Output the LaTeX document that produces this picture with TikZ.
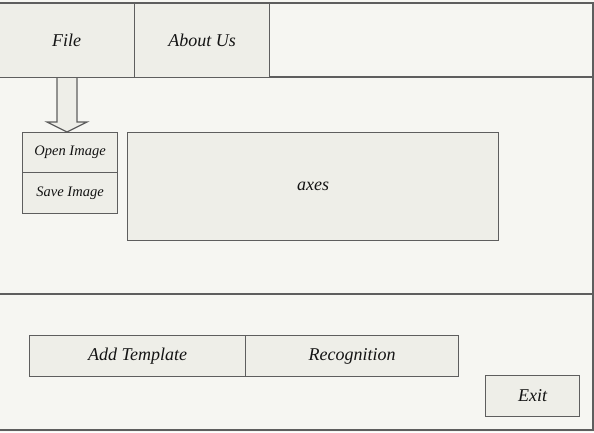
\documentclass[tikz,border=0pt]{standalone}
\usepackage{fontspec}
\setmainfont{Liberation Serif}
\usetikzlibrary{calc}
\definecolor{bg}{HTML}{F6F6F2}
\definecolor{boxfill}{HTML}{EEEEE8}
\definecolor{linegray}{HTML}{5E5E5E}
\begin{document}
\begin{tikzpicture}[x=1pt,y=-1pt,
  box/.style={draw=linegray, fill=boxfill, line width=1.2pt, inner sep=0pt,
    anchor=north west, text=black!92, font=\itshape\fontsize{18}{20}\selectfont},
  smallbox/.style={box, font=\itshape\fontsize{14.5}{16}\selectfont},
  frameline/.style={draw=linegray, line width=1.2pt}]
\useasboundingbox (0,0) rectangle (594,432);
\fill[bg] (0,0) rectangle (594,432);
% arrow from File to the drop-down
\coordinate (atop) at (67,77);
\coordinate (atip) at (67,132);
\draw[frameline, fill=boxfill, line join=miter]
  ($(atop)+(-10,0)$) -- ($(atip)+(-10,-10)$) -- ($(atip)+(-20,-10)$) -- (atip)
  -- ($(atip)+(20,-10)$) -- ($(atip)+(10,-10)$) -- ($(atop)+(10,0)$) -- cycle;
% outer frame (no left edge) and section lines
\coordinate (ftl) at (-2,3);   \coordinate (ftr) at (593,3);
\coordinate (fbr) at (593,430); \coordinate (fbl) at (-2,430);
\draw[frameline] (ftl) -- (ftr) -- (fbr) -- (fbl);
\coordinate (l1a) at (-2,77);   \coordinate (l1b) at (593,77);
\coordinate (l2a) at (-2,294);  \coordinate (l2b) at (593,294);
\draw[frameline] (l1a) -- (l1b);
\draw[frameline] (l2a) -- (l2b);
% menu bar
\node[box, minimum width=136, minimum height=74] (file) at (-2,3) {File};
\node[box, minimum width=135, minimum height=74] (about) at (134,3) {About Us};
% drop-down
\node[smallbox, minimum width=95, minimum height=40] (open) at (22,132) {Open Image};
\node[smallbox, minimum width=95, minimum height=41] (save) at (22,172) {Save Image};
% axes
\node[box, minimum width=371, minimum height=108] (axes) at (127,132) {axes};
% bottom buttons
\node[box, minimum width=216, minimum height=41] (add) at (29,335) {Add Template};
\node[box, minimum width=213, minimum height=41] (recog) at (245,335) {Recognition};
\node[box, minimum width=94, minimum height=41] (exit) at (485,375) {Exit};
\end{tikzpicture}
\end{document}
